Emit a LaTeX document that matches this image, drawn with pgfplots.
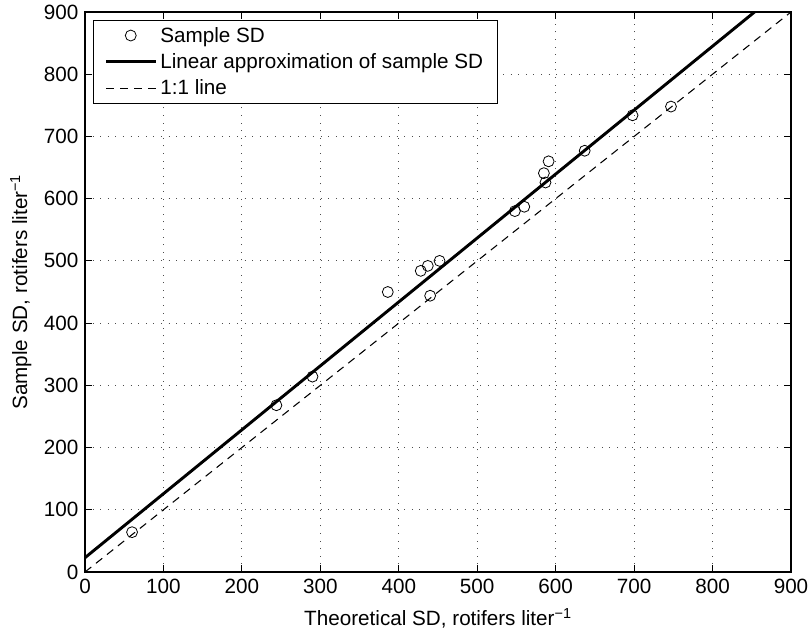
\documentclass[border=0pt]{standalone}
\usepackage{fontspec}
\setmainfont{Liberation Sans}
\usepackage{pgfplots}
\pgfplotsset{compat=1.18}
\newcommand{\bigf}{\fontsize{15.5}{18}\selectfont}
\pgfplotsset{
  longline/.style={legend image code/.code={\draw[##1] (0cm,0cm) -- (1.32cm,0cm);}},
  midmark/.style={legend image code/.code={\draw[##1] plot coordinates {(0.65cm,0cm)};}},
}
\begin{document}
\begin{tikzpicture}[x=1pt,y=1pt]
\begin{axis}[
  name=ax,
  scale only axis,
  width=529.5pt, height=420pt,
  xmin=0, xmax=900, ymin=0, ymax=900,
  xtick={0,100,...,900}, ytick={0,100,...,900},
  tick align=inside,
  major tick length=5pt,
  xtick pos=both, ytick pos=both,
  axis line style={line width=0.8pt},
  tick style={line width=0.6pt, black},
  grid=major,
  major grid style={black!70, line width=0.6pt, dash pattern=on 0.7pt off 5pt},
  tick label style={font=\bigf},
  label style={font=\bigf},
  /pgf/number format/assume math mode=true,
  xticklabel style={yshift=-2pt},
  yticklabel style={xshift=-1.5pt},
  xlabel={Theoretical SD, rotifers liter\textsuperscript{−1}},
  ylabel={Sample SD, rotifers liter\textsuperscript{−1}},
  xlabel style={yshift=-4pt},
  ylabel style={yshift=2.5pt},
  legend cell align=left,
  legend style={at={(0.011,0.986)}, anchor=north west, draw=black, line width=0.8pt,
    font=\bigf, row sep=3pt, inner xsep=8.5pt, inner ysep=3pt},
]
\addplot[only marks, mark=o, mark size=4.1pt, black, line width=0.6pt, midmark]
  coordinates {
  (60,64) (244,268) (290,314) (386,450) (428,484) (437,492) (452,500)
  (440,444) (548,580) (560,587) (587,626) (585,641) (591,660) (637,677)
  (698,734) (747,748)
  };
\addlegendentry{Sample SD}
\addplot[black, line width=2.2pt, longline]
  coordinates {(0,23) (853.5,900)};
\addlegendentry{Linear approximation of sample SD}
\addplot[black, line width=0.8pt, dash pattern=on 6pt off 4.5pt, longline]
  coordinates {(0,0) (900,900)};
\addlegendentry{1:1 line}
\coordinate (ll) at (rel axis cs:0,0);
\coordinate (ur) at (rel axis cs:1,1);
\end{axis}
\pgfresetboundingbox
\path ([shift={(-63.75pt,-49.5pt)}]ll) rectangle ([shift={(12.75pt,9pt)}]ur);
\end{tikzpicture}
\end{document}
